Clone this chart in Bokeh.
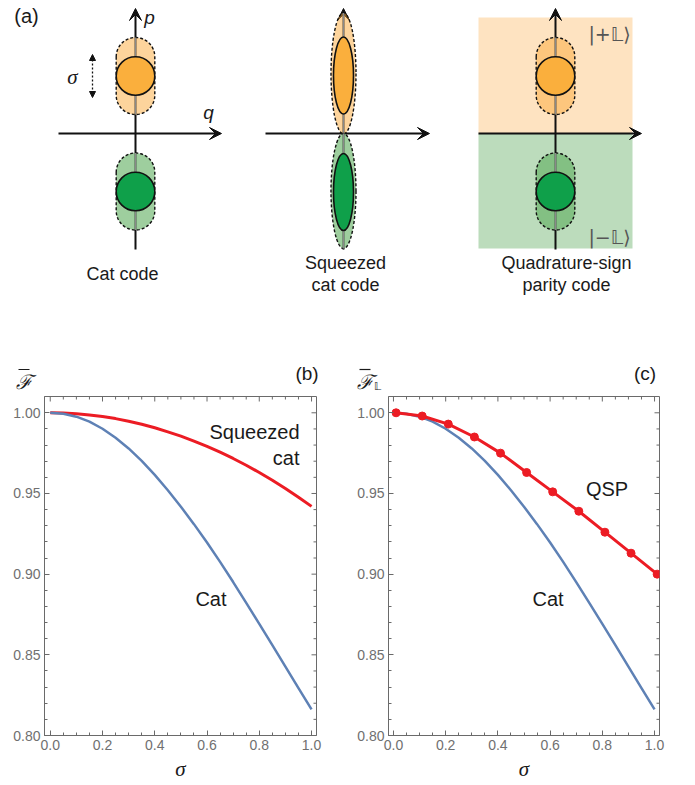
import numpy as np
from bokeh.plotting import figure
from bokeh.layouts import column, row
from bokeh.models import (Range1d, FixedTicker, Label, Arrow, VeeHead, NormalHead)
from bokeh.embed import file_html
from bokeh.resources import INLINE

# ---------------- data ----------------
sigma_curve = [0.00, 0.05, 0.10, 0.15, 0.20, 0.25, 0.30, 0.35, 0.40, 0.45, 0.50,
               0.55, 0.60, 0.65, 0.70, 0.75, 0.80, 0.85, 0.90, 0.95, 1.00]
cat_fidelity = [1.0000, 0.9994, 0.9976, 0.9945, 0.9901, 0.9845, 0.9779, 0.9702,
                0.9615, 0.9520, 0.9418, 0.9310, 0.9196, 0.9076, 0.8951, 0.8822,
                0.8692, 0.8560, 0.8427, 0.8294, 0.8162]
squeezed_fidelity = [1.0000, 0.9998, 0.9994, 0.9987, 0.9977, 0.9964, 0.9948, 0.9929,
                     0.9907, 0.9882, 0.9855, 0.9825, 0.9792, 0.9756, 0.9717, 0.9675,
                     0.9630, 0.9582, 0.9531, 0.9477, 0.9420]
qsp_sigma = [0.01, 0.11, 0.21, 0.31, 0.41, 0.51, 0.61, 0.71, 0.81, 0.91, 1.01]
qsp_fidelity = [1.000, 0.998, 0.993, 0.985, 0.975, 0.963, 0.951, 0.939, 0.926, 0.913, 0.900]

x_major = [0.0, 0.2, 0.4, 0.6, 0.8, 1.0]
x_minor = [0.05, 0.10, 0.15, 0.25, 0.30, 0.35, 0.45, 0.50, 0.55, 0.65, 0.70, 0.75,
           0.85, 0.90, 0.95]
y_major = [0.80, 0.85, 0.90, 0.95, 1.00]
y_minor = [0.81, 0.82, 0.83, 0.84, 0.86, 0.87, 0.88, 0.89, 0.91, 0.92, 0.93, 0.94,
           0.96, 0.97, 0.98, 0.99]
x_tick_labels = {0.0: "0.0", 0.2: "0.2", 0.4: "0.4", 0.6: "0.6", 0.8: "0.8", 1.0: "1.0"}
y_tick_labels = {0.80: "0.80", 0.85: "0.85", 0.90: "0.90", 0.95: "0.95", 1.00: "1.00"}

code_names = ["Cat code", "Squeezed\ncat code", "Quadrature-sign\nparity code"]

# ---------------- styles ----------------
SANS = "Liberation Sans"
SERIF = "Liberation Serif"
ORANGE = "#FAAF3D"
GREEN = "#0FA04A"
ORANGE_L = "#FBAA3A"
GREEN_L = "#5DAE5D"
BG_O = "#FEE3C1"
BG_G = "#BCDCBC"
BLUE = "#5E81B5"
RED = "#EC1C24"
AXC = "#6a6a6a"

TOP_H = 394        # height of the diagram strip (also holds panel titles)
BOT_H = 390        # height of the two plot panels

# ---------------- panel (a) ----------------
pa = figure(width=694, height=TOP_H, x_range=Range1d(0, 694), y_range=Range1d(TOP_H, 0),
            x_axis_type=None, y_axis_type=None, output_backend="svg",
            toolbar_location=None, min_border=0)
pa.grid.visible = False
pa.outline_line_color = None

# background of the QSP panel
pa.quad(left=[478], right=[632], top=[17], bottom=[133], fill_color=BG_O,
        line_color=None, level="image")
pa.quad(left=[478], right=[632], top=[133], bottom=[248], fill_color=BG_G,
        line_color=None, level="image")

axes_cx = [135, 343, 555]
axes_left = [58, 265, 478]
axes_right = [221, 429, 641]
AY = 133
for cx, xl, xr in zip(axes_cx, axes_left, axes_right):
    pa.add_layout(Arrow(end=VeeHead(size=12, fill_color="#111", line_color="#111"),
                        x_start=cx, y_start=249, x_end=cx, y_end=8,
                        line_color="#111", line_width=2, level="underlay"))
    pa.add_layout(Arrow(end=VeeHead(size=12, fill_color="#111", line_color="#111"),
                        x_start=xl, y_start=AY, x_end=xr, y_end=AY,
                        line_color="#111", line_width=2, level="underlay"))

R = 19.3
D = 19.2


def stadium(cx, cy, r, d, n=40):
    t1 = np.linspace(np.pi, 2 * np.pi, n)
    t2 = np.linspace(0, np.pi, n)
    xs = np.concatenate([cx + r * np.cos(t1), cx + r * np.cos(t2)])
    ys = np.concatenate([cy - d + r * np.sin(t1), cy + d + r * np.sin(t2)])
    return xs, ys


for cx in [135, 555]:
    for cy, light, solid in [(75.5, ORANGE_L, ORANGE), (191, GREEN_L, GREEN)]:
        xs, ys = stadium(cx, cy, R, D)
        alpha = 0.5 if light == ORANGE_L else 0.6
        pa.patch(xs, ys, fill_color=light, fill_alpha=alpha, line_color="#111",
                 line_dash="3 2", line_width=1.4)
        pa.segment(x0=[cx], y0=[cy - D - R], x1=[cx], y1=[cy + D + R],
                   line_color="#8a8a8a", line_width=1.6)
        pa.circle(x=[cx], y=[cy], radius=R, fill_color=solid, line_color="#111",
                  line_width=1.6)

# squeezed ellipses
cx2 = 343
for cy_o, h_o, cy_s, light, solid in [(73, 121, 75, ORANGE_L, ORANGE),
                                      (190.5, 115, 191.5, GREEN_L, GREEN)]:
    alpha = 0.5 if light == ORANGE_L else 0.6
    pa.ellipse(x=[cx2], y=[cy_o], width=25, height=h_o, fill_color=light,
               fill_alpha=alpha, line_color="#111", line_dash="3 2", line_width=1.4)
    pa.segment(x0=[cx2], y0=[cy_o - h_o / 2], x1=[cx2], y1=[cy_o + h_o / 2],
               line_color="#8a8a8a", line_width=1.6)
    pa.ellipse(x=[cx2], y=[cy_s], width=20, height=77, fill_color=solid,
               line_color="#111", line_width=1.6)

# sigma double arrow
pa.add_layout(Arrow(start=NormalHead(size=6, fill_color="#111", line_color="#111"),
                    end=NormalHead(size=6, fill_color="#111", line_color="#111"),
                    x_start=92, y_start=97, x_end=92, y_end=54,
                    line_color="#111", line_width=1.3, line_dash="2 2"))


def lab(p, x, y, text, size, font=SANS, style="normal", color="#1a1a1a",
        align="center", baseline="middle"):
    p.add_layout(Label(x=x, y=y, text=text, text_font=font, text_font_size=size,
                       text_font_style=style, text_color=color, text_align=align,
                       text_baseline=baseline))


lab(pa, 72, 76, "σ", "21px", font=SERIF, style="italic")
lab(pa, 149, 17, "p", "19px", style="italic")
lab(pa, 208, 112, "q", "19px", style="italic")
lab(pa, 26, 15, "(a)", "20px")
lab(pa, 609, 33, "|+𝕃⟩", "19px", font="DejaVu Sans", color="#555")
lab(pa, 609, 236, "|−𝕃⟩", "19px", font="DejaVu Sans", color="#555")

lab(pa, 122, 273, code_names[0], "18px")
for (cx, name) in [(345, code_names[1]), (566, code_names[2])]:
    l1, l2 = name.split("\n")
    lab(pa, cx, 262, l1, "18px")
    lab(pa, cx, 284, l2, "18px")

# titles of panels (b) and (c), placed in the strip above them
lab(pa, 306.5, 373, "(b)", "19px")
lab(pa, 644.5, 373, "(c)", "19px")
lab(pa, 23, 381, "ℱ", "20px", font="DejaVu Serif", style="italic")
lab(pa, 364, 381, "ℱ", "20px", font="DejaVu Serif", style="italic")
lab(pa, 377, 386, "𝕃", "11px", font="DejaVu Sans", color="#1a1a1a")
# bars over the script F
pa.segment(x0=[18, 359], y0=[369, 369], x1=[29, 370], y1=[369, 369],
           line_color="#1a1a1a", line_width=1.2)

# ---------------- panels (b), (c) ----------------
Y0, Y1 = 0.80, 1.0101
FRAME_H = 339


def make_panel(width, xr, bl, br, frame_w):
    p = figure(width=width, height=BOT_H, x_range=Range1d(*xr), y_range=Range1d(Y0, Y1),
               output_backend="svg", toolbar_location=None,
               min_border_left=bl, min_border_right=br, min_border_top=2,
               min_border_bottom=BOT_H - 2 - FRAME_H)
    p.grid.visible = False
    p.outline_line_color = AXC
    p.xaxis.ticker = FixedTicker(ticks=x_major, minor_ticks=x_minor)
    p.xaxis.major_label_overrides = x_tick_labels
    p.yaxis.ticker = FixedTicker(ticks=y_major, minor_ticks=y_minor)
    p.yaxis.major_label_overrides = y_tick_labels
    for ax in p.axis:
        ax.axis_line_color = AXC
        ax.major_tick_line_color = AXC
        ax.minor_tick_line_color = AXC
        ax.major_tick_in = 5
        ax.major_tick_out = 0
        ax.minor_tick_in = 3
        ax.minor_tick_out = 0
        ax.major_label_text_font = SANS
        ax.major_label_text_font_size = "14px"
        ax.major_label_text_color = "#707070"
        ax.major_label_standoff = 4
    p.xaxis.axis_label = "σ"
    p.xaxis.axis_label_text_font = SERIF
    p.xaxis.axis_label_text_font_style = "italic"
    p.xaxis.axis_label_text_font_size = "21px"
    p.xaxis.axis_label_text_color = "#1a1a1a"
    p.xaxis.axis_label_standoff = 4
    # ticks on the top and right edges of the frame
    dy = (Y1 - Y0) / FRAME_H
    dx = (xr[1] - xr[0]) / frame_w
    p.segment(x0=x_major, y0=[Y1] * len(x_major), x1=x_major,
              y1=[Y1 - 5 * dy] * len(x_major), line_color=AXC, line_width=1)
    p.segment(x0=x_minor, y0=[Y1] * len(x_minor), x1=x_minor,
              y1=[Y1 - 3 * dy] * len(x_minor), line_color=AXC, line_width=1)
    p.segment(x0=[xr[1]] * len(y_major), y0=y_major, x1=[xr[1] - 5 * dx] * len(y_major),
              y1=y_major, line_color=AXC, line_width=1)
    p.segment(x0=[xr[1]] * len(y_minor), y0=y_minor, x1=[xr[1] - 3 * dx] * len(y_minor),
              y1=y_minor, line_color=AXC, line_width=1)
    return p


# panel b: frame 44..316 px in the picture
pb = make_panel(348, (-0.022, 1.019), 44, 32, 272)
pb.line(sigma_curve, squeezed_fidelity, line_color=RED, line_width=3)
pb.line(sigma_curve, cat_fidelity, line_color=BLUE, line_width=2.5)
lab(pb, 0.954, 0.9884, "Squeezed", "20px", align="right")
lab(pb, 0.954, 0.9717, "cat", "20px", align="right")
lab(pb, 0.615, 0.8843, "Cat", "20px")

# panel c: frame 388..659 px in the picture
pc = make_panel(346, (-0.019, 1.019), 40, 35, 271)
pc.line(sigma_curve, cat_fidelity, line_color=BLUE, line_width=2.5)
pc.line(qsp_sigma, qsp_fidelity, line_color=RED, line_width=3)
pc.scatter(qsp_sigma, qsp_fidelity, size=8, fill_color=RED, line_color=RED)
lab(pc, 0.818, 0.9525, "QSP", "20px")
lab(pc, 0.592, 0.8843, "Cat", "20px")

layout = column(pa, row(pb, pc))
open("out.html", "w").write(file_html(layout, INLINE))
